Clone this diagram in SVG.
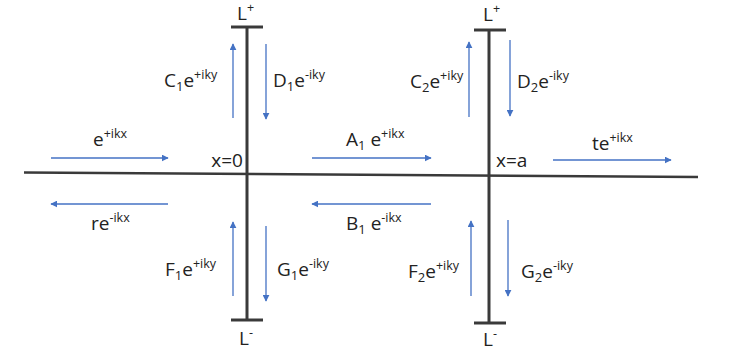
<svg xmlns="http://www.w3.org/2000/svg" width="738" height="352" viewBox="0 0 738 352">
<defs>
<marker id="ah" viewBox="0 0 10 10" refX="9" refY="5" markerWidth="7" markerHeight="7" markerUnits="userSpaceOnUse" orient="auto">
<path d="M0,0 L10,5 L0,10 Z" fill="#4472C4"/>
</marker>
<style>
.bar{stroke:#3a3a3a;stroke-width:3;fill:none}
.axis{stroke:#3a3a3a;stroke-width:2.5;fill:none}
.arr{stroke:#4472C4;stroke-width:1.3;fill:none;marker-end:url(#ah)}
text{font-family:"Open Sans","Liberation Sans",sans-serif;font-size:19px;fill:#222}
.sup{font-size:12.5px}
.sub{font-size:13px}
</style>
</defs>
<rect width="738" height="352" fill="#fff"/>
<g id="axis"><line class="axis" x1="24" y1="172.5" x2="698" y2="177"/></g>
<g id="barrier1">
<line class="bar" x1="247" y1="27" x2="247" y2="320"/>
<line class="bar" x1="231" y1="27" x2="263" y2="27"/>
<line class="bar" x1="231" y1="320" x2="263" y2="320"/>
<text x="237" y="20">L<tspan class="sup" dy="-8">+</tspan></text>
<text x="239" y="345">L<tspan class="sup" dy="-8">-</tspan></text>
<text x="243" y="167" text-anchor="end">x=0</text>
</g>
<g id="barrier2">
<line class="bar" x1="489" y1="30" x2="489" y2="323"/>
<line class="bar" x1="474" y1="30" x2="506" y2="30"/>
<line class="bar" x1="474" y1="323" x2="506" y2="323"/>
<text x="483" y="21">L<tspan class="sup" dy="-8">+</tspan></text>
<text x="483" y="346">L<tspan class="sup" dy="-8">-</tspan></text>
<text x="496" y="167">x=a</text>
</g>
<g id="connectors">
<line class="arr" x1="51" y1="158" x2="168" y2="158"/>
<line class="arr" x1="168" y1="204" x2="51" y2="204"/>
<line class="arr" x1="312" y1="158" x2="431" y2="158"/>
<line class="arr" x1="431" y1="204" x2="312" y2="204"/>
<line class="arr" x1="553" y1="160" x2="671" y2="160"/>
<line class="arr" x1="233" y1="118" x2="233" y2="44"/>
<line class="arr" x1="266" y1="44" x2="266" y2="119"/>
<line class="arr" x1="469" y1="117" x2="469" y2="42"/>
<line class="arr" x1="510" y1="40" x2="510" y2="116"/>
<line class="arr" x1="233" y1="296" x2="233" y2="222"/>
<line class="arr" x1="266" y1="226" x2="266" y2="301"/>
<line class="arr" x1="471" y1="296" x2="471" y2="221"/>
<line class="arr" x1="508" y1="220" x2="508" y2="296"/>
</g>
<g id="lbl-inc"><text x="93" y="146">e<tspan class="sup" dy="-8">+ikx</tspan></text></g>
<g id="lbl-ref"><text x="91" y="230">re<tspan class="sup" dy="-8">-ikx</tspan></text></g>
<g id="lbl-A1"><text x="346" y="146">A<tspan class="sub" dy="4">1</tspan><tspan dy="-4"> e</tspan><tspan class="sup" dy="-8">+ikx</tspan></text></g>
<g id="lbl-B1"><text x="346" y="230">B<tspan class="sub" dy="4">1</tspan><tspan dy="-4"> e</tspan><tspan class="sup" dy="-8">-ikx</tspan></text></g>
<g id="lbl-t"><text x="592" y="150">te<tspan class="sup" dy="-8">+ikx</tspan></text></g>
<g id="lbl-C1"><text x="164" y="87">C<tspan class="sub" dy="4">1</tspan><tspan dy="-4">e</tspan><tspan class="sup" dy="-8">+iky</tspan></text></g>
<g id="lbl-D1"><text x="273" y="87">D<tspan class="sub" dy="4">1</tspan><tspan dy="-4">e</tspan><tspan class="sup" dy="-8">-iky</tspan></text></g>
<g id="lbl-C2"><text x="410" y="88">C<tspan class="sub" dy="4">2</tspan><tspan dy="-4">e</tspan><tspan class="sup" dy="-8">+iky</tspan></text></g>
<g id="lbl-D2"><text x="517" y="88">D<tspan class="sub" dy="4">2</tspan><tspan dy="-4">e</tspan><tspan class="sup" dy="-8">-iky</tspan></text></g>
<g id="lbl-F1"><text x="165" y="276">F<tspan class="sub" dy="4">1</tspan><tspan dy="-4">e</tspan><tspan class="sup" dy="-8">+iky</tspan></text></g>
<g id="lbl-G1"><text x="277" y="276">G<tspan class="sub" dy="4">1</tspan><tspan dy="-4">e</tspan><tspan class="sup" dy="-8">-iky</tspan></text></g>
<g id="lbl-F2"><text x="408" y="278">F<tspan class="sub" dy="4">2</tspan><tspan dy="-4">e</tspan><tspan class="sup" dy="-8">+iky</tspan></text></g>
<g id="lbl-G2"><text x="521" y="278">G<tspan class="sub" dy="4">2</tspan><tspan dy="-4">e</tspan><tspan class="sup" dy="-8">-iky</tspan></text></g>
</svg>
